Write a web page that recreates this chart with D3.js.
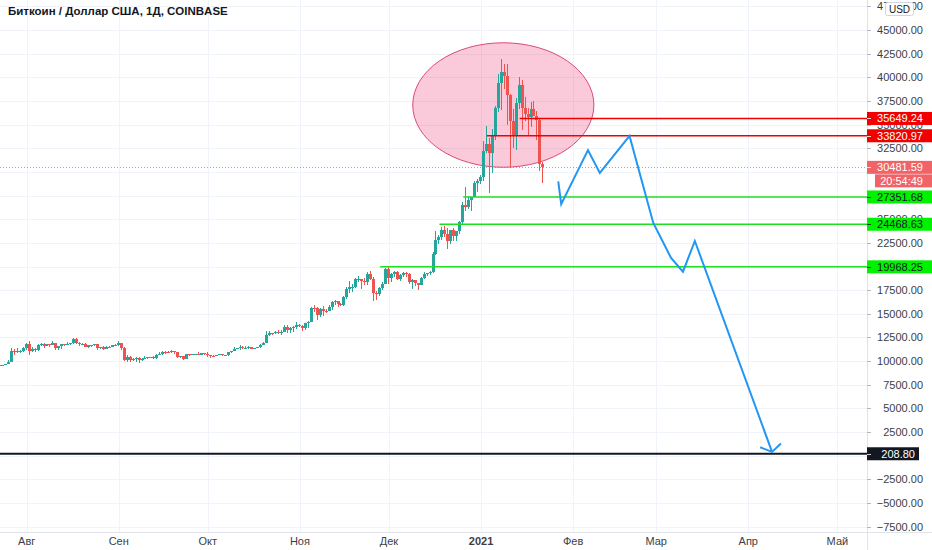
<!DOCTYPE html>
<html>
<head>
<meta charset="utf-8">
<script src="https://cdn.jsdelivr.net/npm/d3@7"></script>
<style>
html, body { margin: 0; padding: 0; background: #fff; }
svg { display: block; font-family: "Liberation Sans", Arial, sans-serif; }
</style>
</head>
<body>
<svg id="chart" width="932" height="550"></svg>
<script>
// daily candles, BTC/USD coinbase: date, open, high, low, close
const candles = [
    ["2020-07-21", 9160, 9420, 9150, 9390],
    ["2020-07-22", 9390, 9540, 9280, 9530],
    ["2020-07-23", 9530, 9640, 9470, 9610],
    ["2020-07-24", 9610, 9640, 9460, 9550],
    ["2020-07-25", 9550, 9730, 9540, 9710],
    ["2020-07-26", 9710, 10100, 9680, 9940],
    ["2020-07-27", 9940, 11400, 9920, 11050],
    ["2020-07-28", 11050, 11250, 10630, 10930],
    ["2020-07-29", 10930, 11340, 10860, 11100],
    ["2020-07-30", 11100, 11170, 10840, 11110],
    ["2020-07-31", 11110, 11450, 10980, 11350],
    ["2020-08-01", 11350, 11870, 11220, 11810],
    ["2020-08-02", 11810, 12120, 10660, 11070],
    ["2020-08-03", 11070, 11480, 10940, 11230],
    ["2020-08-04", 11230, 11420, 11000, 11190],
    ["2020-08-05", 11190, 11790, 11090, 11750],
    ["2020-08-06", 11750, 11910, 11590, 11770],
    ["2020-08-07", 11770, 11920, 11380, 11600],
    ["2020-08-08", 11600, 11810, 11550, 11760],
    ["2020-08-09", 11760, 11810, 11530, 11680],
    ["2020-08-10", 11680, 12080, 11690, 11880],
    ["2020-08-11", 11880, 11940, 11130, 11400],
    ["2020-08-12", 11400, 11600, 11150, 11570],
    ["2020-08-13", 11570, 11800, 11260, 11780],
    ["2020-08-14", 11780, 11850, 11640, 11770],
    ["2020-08-15", 11770, 11980, 11700, 11860],
    ["2020-08-16", 11860, 11930, 11690, 11910],
    ["2020-08-17", 11910, 12480, 11810, 12300],
    ["2020-08-18", 12300, 12400, 11800, 11960],
    ["2020-08-19", 11960, 12030, 11560, 11760],
    ["2020-08-20", 11760, 11890, 11680, 11860],
    ["2020-08-21", 11860, 11880, 11480, 11530],
    ["2020-08-22", 11530, 11690, 11380, 11680],
    ["2020-08-23", 11680, 11710, 11520, 11660],
    ["2020-08-24", 11660, 11830, 11600, 11760],
    ["2020-08-25", 11760, 11780, 11130, 11340],
    ["2020-08-26", 11340, 11540, 11260, 11470],
    ["2020-08-27", 11470, 11590, 11130, 11320],
    ["2020-08-28", 11320, 11550, 11290, 11540],
    ["2020-08-29", 11540, 11580, 11430, 11480],
    ["2020-08-30", 11480, 11720, 11470, 11710],
    ["2020-08-31", 11710, 11770, 11580, 11680],
    ["2020-09-01", 11680, 12090, 11610, 11930],
    ["2020-09-02", 11930, 11950, 11170, 11400],
    ["2020-09-03", 11400, 11460, 10000, 10170],
    ["2020-09-04", 10170, 10610, 9900, 10470],
    ["2020-09-05", 10470, 10570, 9880, 10170],
    ["2020-09-06", 10170, 10350, 10010, 10250],
    ["2020-09-07", 10250, 10400, 9880, 10370],
    ["2020-09-08", 10370, 10430, 9850, 10130],
    ["2020-09-09", 10130, 10350, 10000, 10230],
    ["2020-09-10", 10230, 10490, 10200, 10350],
    ["2020-09-11", 10350, 10400, 10200, 10400],
    ["2020-09-12", 10400, 10480, 10290, 10440],
    ["2020-09-13", 10440, 10580, 10210, 10330],
    ["2020-09-14", 10330, 10800, 10270, 10680],
    ["2020-09-15", 10680, 10950, 10630, 10790],
    ["2020-09-16", 10790, 11100, 10680, 10950],
    ["2020-09-17", 10950, 11040, 10750, 10940],
    ["2020-09-18", 10940, 11040, 10820, 10930],
    ["2020-09-19", 10930, 11180, 10890, 11080],
    ["2020-09-20", 11080, 11080, 10760, 10920],
    ["2020-09-21", 10920, 10990, 10370, 10420],
    ["2020-09-22", 10420, 10580, 10360, 10530],
    ["2020-09-23", 10530, 10540, 10140, 10240],
    ["2020-09-24", 10240, 10790, 10200, 10740],
    ["2020-09-25", 10740, 10760, 10570, 10690],
    ["2020-09-26", 10690, 10780, 10650, 10730],
    ["2020-09-27", 10730, 10800, 10630, 10780],
    ["2020-09-28", 10780, 10950, 10650, 10700],
    ["2020-09-29", 10700, 10870, 10650, 10840],
    ["2020-09-30", 10840, 10850, 10680, 10780],
    ["2020-10-01", 10780, 10920, 10440, 10620],
    ["2020-10-02", 10620, 10670, 10380, 10580],
    ["2020-10-03", 10580, 10600, 10500, 10550],
    ["2020-10-04", 10550, 10690, 10520, 10670],
    ["2020-10-05", 10670, 10800, 10600, 10790],
    ["2020-10-06", 10790, 10800, 10530, 10600],
    ["2020-10-07", 10600, 10690, 10550, 10670],
    ["2020-10-08", 10670, 10950, 10530, 10920],
    ["2020-10-09", 10920, 11100, 10830, 11060],
    ["2020-10-10", 11060, 11490, 11050, 11300],
    ["2020-10-11", 11300, 11440, 11250, 11370],
    ["2020-10-12", 11370, 11720, 11220, 11540],
    ["2020-10-13", 11540, 11560, 11300, 11430],
    ["2020-10-14", 11430, 11550, 11290, 11430],
    ["2020-10-15", 11430, 11630, 11280, 11510],
    ["2020-10-16", 11510, 11540, 11230, 11320],
    ["2020-10-17", 11320, 11400, 11300, 11360],
    ["2020-10-18", 11360, 11490, 11340, 11500],
    ["2020-10-19", 11500, 11820, 11420, 11750],
    ["2020-10-20", 11750, 12000, 11700, 11920],
    ["2020-10-21", 11920, 13220, 11900, 12810],
    ["2020-10-22", 12810, 13190, 12700, 12990],
    ["2020-10-23", 12990, 13020, 12730, 12930],
    ["2020-10-24", 12930, 13160, 12900, 13120],
    ["2020-10-25", 13120, 13340, 12900, 13030],
    ["2020-10-26", 13030, 13250, 12800, 13070],
    ["2020-10-27", 13070, 13790, 13060, 13650],
    ["2020-10-28", 13650, 13850, 12950, 13280],
    ["2020-10-29", 13280, 13640, 12990, 13460],
    ["2020-10-30", 13460, 13680, 13130, 13560],
    ["2020-10-31", 13560, 14100, 13430, 13800],
    ["2020-11-01", 13800, 13900, 13620, 13760],
    ["2020-11-02", 13760, 13820, 13210, 13550],
    ["2020-11-03", 13550, 14070, 13290, 14030],
    ["2020-11-04", 14030, 14250, 13530, 14150],
    ["2020-11-05", 14150, 15770, 14100, 15590],
    ["2020-11-06", 15590, 15970, 15190, 15580],
    ["2020-11-07", 15580, 15770, 14350, 14840],
    ["2020-11-08", 14840, 15650, 14710, 15480],
    ["2020-11-09", 15480, 15840, 14810, 15330],
    ["2020-11-10", 15330, 15480, 15100, 15310],
    ["2020-11-11", 15310, 15960, 15280, 15700],
    ["2020-11-12", 15700, 16340, 15450, 16290],
    ["2020-11-13", 16290, 16480, 15960, 16320],
    ["2020-11-14", 16320, 16330, 15720, 16070],
    ["2020-11-15", 16070, 16130, 15800, 15960],
    ["2020-11-16", 15960, 16880, 15880, 16730],
    ["2020-11-17", 16730, 17860, 16560, 17660],
    ["2020-11-18", 17660, 18480, 17210, 17800],
    ["2020-11-19", 17800, 18170, 17350, 17820],
    ["2020-11-20", 17820, 18820, 17760, 18680],
    ["2020-11-21", 18680, 18960, 18360, 18710],
    ["2020-11-22", 18710, 18730, 17640, 18420],
    ["2020-11-23", 18420, 18770, 18010, 18370],
    ["2020-11-24", 18370, 19420, 18090, 19160],
    ["2020-11-25", 19160, 19490, 18570, 18730],
    ["2020-11-26", 18730, 18920, 16330, 17150],
    ["2020-11-27", 17150, 17460, 16490, 17140],
    ["2020-11-28", 17140, 17880, 16900, 17720],
    ["2020-11-29", 17720, 18330, 17540, 18180],
    ["2020-11-30", 18180, 19860, 18180, 19700],
    ["2020-12-01", 19700, 19920, 18120, 18790],
    ["2020-12-02", 18790, 19340, 18340, 19230],
    ["2020-12-03", 19230, 19560, 18930, 19450],
    ["2020-12-04", 19450, 19530, 18580, 18650],
    ["2020-12-05", 18650, 19170, 18500, 19150],
    ["2020-12-06", 19150, 19420, 18860, 19360],
    ["2020-12-07", 19360, 19410, 18900, 19170],
    ["2020-12-08", 19170, 19300, 18200, 18320],
    ["2020-12-09", 18320, 18630, 17650, 18550],
    ["2020-12-10", 18550, 18560, 17910, 18250],
    ["2020-12-11", 18250, 18270, 17570, 18030],
    ["2020-12-12", 18030, 18940, 18020, 18800],
    ["2020-12-13", 18800, 19400, 18720, 19170],
    ["2020-12-14", 19170, 19340, 19000, 19270],
    ["2020-12-15", 19270, 19560, 19060, 19440],
    ["2020-12-16", 19440, 21560, 19300, 21340],
    ["2020-12-17", 21340, 23770, 21230, 22800],
    ["2020-12-18", 22800, 23280, 22350, 23130],
    ["2020-12-19", 23130, 24170, 22770, 23860],
    ["2020-12-20", 23860, 24290, 23080, 23470],
    ["2020-12-21", 23470, 24100, 21820, 22720],
    ["2020-12-22", 22720, 23830, 22350, 23820],
    ["2020-12-23", 23820, 24120, 22700, 23240],
    ["2020-12-24", 23240, 23780, 22700, 23730],
    ["2020-12-25", 23730, 24790, 23440, 24710],
    ["2020-12-26", 24710, 26870, 24510, 26490],
    ["2020-12-27", 26490, 28420, 25850, 26280],
    ["2020-12-28", 26280, 27430, 26090, 27040],
    ["2020-12-29", 27040, 27370, 25900, 27370],
    ["2020-12-30", 27370, 29000, 27330, 28880],
    ["2020-12-31", 28880, 29300, 27850, 28990],
    ["2021-01-01", 28990, 29680, 28700, 29410],
    ["2021-01-02", 29410, 33300, 29000, 32200],
    ["2021-01-03", 32200, 34810, 32000, 33000],
    ["2021-01-04", 33000, 33600, 27730, 32000],
    ["2021-01-05", 32000, 34500, 29900, 33950],
    ["2021-01-06", 33950, 36950, 33400, 36770],
    ["2021-01-07", 36770, 40370, 36300, 39410],
    ["2021-01-08", 39410, 41950, 36500, 40600],
    ["2021-01-09", 40600, 41360, 38720, 40100],
    ["2021-01-10", 40100, 41400, 35000, 38150],
    ["2021-01-11", 38150, 38200, 30420, 35400],
    ["2021-01-12", 35400, 36600, 32500, 33900],
    ["2021-01-13", 33900, 37800, 32300, 37330],
    ["2021-01-14", 37330, 40000, 36700, 39150],
    ["2021-01-15", 39150, 39700, 34400, 36800],
    ["2021-01-16", 36800, 37950, 35400, 36070],
    ["2021-01-17", 36070, 36800, 33850, 35800],
    ["2021-01-18", 35800, 37400, 34800, 36630],
    ["2021-01-19", 36630, 37450, 35900, 35900],
    ["2021-01-20", 35900, 36400, 33400, 35480],
    ["2021-01-21", 35480, 35600, 30100, 30820],
    ["2021-01-22", 30820, 31100, 28800, 30481.59]
];

// horizontal levels drawn on the chart
const resistancePrices = [35649.24, 33820.97];
const resistanceFrom = ["2021-01-14", "2021-01-03"];
const supportPrices = [27351.68, 24468.63, 19968.25];
const supportFrom = ["2020-12-26", "2020-12-18", "2020-11-28"];
const basePrice = 208.80;
const lastPrice = 30481.59;
const countdown = "20:54:49";

// highlighted zone (ellipse bounding box)
const zoneDates = ["2020-12-09", "2021-02-08"];
const zonePrices = [43650, 30490];

// hand drawn forecast path + arrow head
const forecastDates = ["2021-01-27", "2021-01-28", "2021-02-06", "2021-02-10", "2021-02-20",
                       "2021-02-28", "2021-03-06", "2021-03-10", "2021-03-14", "2021-04-09"];
const forecastPrices = [29000, 26600, 32300, 29900, 33800, 24600, 20900, 19450, 22700, 400];
const arrowDates = ["2021-04-05", "2021-04-09", "2021-04-12"];
const arrowPrices = [900, 400, 1300];

// axes
const priceTicks = d3.range(-7500, 47501, 2500);
const monthTicks = ["2020-08-01", "2020-09-01", "2020-10-01", "2020-11-01", "2020-12-01",
                    "2021-01-01", "2021-02-01", "2021-03-01", "2021-04-01", "2021-05-01"];
const monthLabels = ["Авг", "Сен", "Окт", "Ноя", "Дек", "2021", "Фев", "Мар", "Апр", "Май"];

const title = "Биткоин / Доллар США, 1Д, COINBASE";

const W = 932, H = 550;
const plotR = 867, plotB = 532;
const upColor = '#26a69a', downColor = '#ef5350';

const parseDay = d3.utcParse('%Y-%m-%d');
const x = d3.scaleUtc()
    .domain([parseDay('2020-08-01'), parseDay('2021-04-01')])
    .range([26.7, 748.3]);
const y = d3.scaleLinear()
    .domain([-7500, 45000])
    .range([526.7, 30]);

const svg = d3.select('#chart');
svg.append('rect').attr('width', W).attr('height', H).attr('fill', '#fff');

svg.append('defs').append('clipPath').attr('id', 'plotClip')
    .append('rect').attr('width', plotR).attr('height', plotB);

// grid
const grid = svg.append('g').attr('shape-rendering', 'crispEdges');
grid.selectAll('line.h')
    .data(priceTicks)
    .enter().append('line')
    .attr('class', 'h')
    .attr('x1', 0).attr('x2', plotR)
    .attr('y1', function(d) { return Math.round(y(d)) + 0.5; })
    .attr('y2', function(d) { return Math.round(y(d)) + 0.5; })
    .attr('stroke', '#f0f3fa');
grid.selectAll('line.v')
    .data(monthTicks)
    .enter().append('line')
    .attr('class', 'v')
    .attr('y1', 0).attr('y2', plotB)
    .attr('x1', function(d) { return Math.round(x(parseDay(d))) + 0.5; })
    .attr('x2', function(d) { return Math.round(x(parseDay(d))) + 0.5; })
    .attr('stroke', '#f0f3fa');

const plot = svg.append('g').attr('clip-path', 'url(#plotClip)');

// zone ellipse
const zx0 = x(parseDay(zoneDates[0])), zx1 = x(parseDay(zoneDates[1]));
const zy0 = y(zonePrices[0]), zy1 = y(zonePrices[1]);
plot.append('ellipse')
    .attr('cx', (zx0 + zx1) / 2)
    .attr('cy', (zy0 + zy1) / 2)
    .attr('rx', (zx1 - zx0) / 2)
    .attr('ry', (zy1 - zy0) / 2)
    .attr('fill', 'rgba(233, 30, 99, 0.24)')
    .attr('stroke', '#dd4a72')
    .attr('stroke-width', 1);

// current price dotted line
plot.append('line')
    .attr('x1', 0).attr('x2', plotR)
    .attr('y1', Math.round(y(lastPrice)) + 0.5)
    .attr('y2', Math.round(y(lastPrice)) + 0.5)
    .attr('stroke', '#ef5350')
    .attr('stroke-opacity', 0.7)
    .attr('stroke-dasharray', '1,2');

// candles
const cg = plot.append('g').attr('shape-rendering', 'crispEdges');
const candle = cg.selectAll('g')
    .data(candles)
    .enter().append('g');
candle.append('rect')
    .attr('x', function(d) { return Math.round(x(parseDay(d[0]))) - 1; })
    .attr('width', 1)
    .attr('y', function(d) { return y(d[2]); })
    .attr('height', function(d) { return Math.max(1, y(d[3]) - y(d[2])); })
    .attr('fill', function(d) { return d[4] >= d[1] ? upColor : downColor; });
candle.append('rect')
    .attr('x', function(d) { return Math.round(x(parseDay(d[0]))) - 2; })
    .attr('width', 3)
    .attr('y', function(d) { return y(Math.max(d[1], d[4])); })
    .attr('height', function(d) { return Math.max(1, Math.abs(y(d[1]) - y(d[4]))); })
    .attr('fill', function(d) { return d[4] >= d[1] ? upColor : downColor; });

// levels
function levelLine(price, from, color, width) {
    plot.append('line')
        .attr('x1', x(parseDay(from))).attr('x2', plotR)
        .attr('y1', y(price)).attr('y2', y(price))
        .attr('stroke', color)
        .attr('stroke-width', width);
}
for (var i = 0; i < resistancePrices.length; i++) {
    levelLine(resistancePrices[i], resistanceFrom[i], '#f20000', 1.5);
}
for (var j = 0; j < supportPrices.length; j++) {
    levelLine(supportPrices[j], supportFrom[j], '#1fe01f', 1.5);
}
plot.append('line')
    .attr('x1', 0).attr('x2', plotR)
    .attr('y1', y(basePrice)).attr('y2', y(basePrice))
    .attr('stroke', '#131722')
    .attr('stroke-width', 2);

// forecast path
const pathLine = d3.line()
    .x(function(d) { return x(parseDay(d[0])); })
    .y(function(d) { return y(d[1]); });
plot.append('path')
    .datum(d3.zip(forecastDates, forecastPrices))
    .attr('d', pathLine)
    .attr('fill', 'none')
    .attr('stroke', '#2196f3')
    .attr('stroke-width', 2)
    .attr('stroke-linejoin', 'miter');
plot.append('path')
    .datum(d3.zip(arrowDates, arrowPrices))
    .attr('d', pathLine)
    .attr('fill', 'none')
    .attr('stroke', '#2196f3')
    .attr('stroke-width', 2);

// axes frame
const frame = svg.append('g').attr('shape-rendering', 'crispEdges');
frame.append('line')
    .attr('x1', plotR + 0.5).attr('x2', plotR + 0.5)
    .attr('y1', 0).attr('y2', H)
    .attr('stroke', '#e0e3eb');
frame.append('line')
    .attr('x1', 0).attr('x2', W)
    .attr('y1', plotB + 0.5).attr('y2', plotB + 0.5)
    .attr('stroke', '#e0e3eb');

// title
svg.append('text')
    .attr('x', 8).attr('y', 15)
    .attr('font-size', 11.5)
    .attr('font-weight', 'bold')
    .attr('fill', '#131722')
    .text(title);

// price axis
const tagCentres = resistancePrices.concat(supportPrices, [basePrice, lastPrice]).map(y);
const pa = svg.append('g');
pa.selectAll('line')
    .data(priceTicks)
    .enter().append('line')
    .attr('x1', plotR).attr('x2', plotR + 4)
    .attr('y1', function(d) { return Math.round(y(d)) + 0.5; })
    .attr('y2', function(d) { return Math.round(y(d)) + 0.5; })
    .attr('stroke', '#b2b5be')
    .attr('shape-rendering', 'crispEdges');
pa.selectAll('text')
    .data(priceTicks.filter(function(d) {
        return !tagCentres.some(function(c) { return Math.abs(c - y(d)) < 4.8; });
    }))
    .enter().append('text')
    .attr('x', 923)
    .attr('y', function(d) { return y(d) + 4; })
    .attr('text-anchor', 'end')
    .attr('font-size', 11)
    .attr('fill', '#3b3e47')
    .text(function(d) { return d3.format('.2f')(d); });

// USD box
svg.append('rect')
    .attr('x', 885.5).attr('y', 2.5).attr('width', 28).attr('height', 13)
    .attr('rx', 2)
    .attr('fill', '#fff').attr('stroke', '#d1d4dc');
svg.append('text')
    .attr('x', 899.5).attr('y', 12.5)
    .attr('text-anchor', 'middle')
    .attr('font-size', 10)
    .attr('fill', '#131722')
    .text('USD');

// price tags
function tag(price, label, bg, fg, x0, x1, textX, dy) {
    const cy = y(price) + (dy || 0);
    svg.append('rect')
        .attr('x', x0).attr('y', cy - 6.5)
        .attr('width', x1 - x0).attr('height', 13)
        .attr('fill', bg);
    svg.append('line')
        .attr('x1', plotR).attr('x2', plotR + 4)
        .attr('y1', Math.round(cy) + 0.5).attr('y2', Math.round(cy) + 0.5)
        .attr('stroke', fg).attr('stroke-opacity', 0.8)
        .attr('shape-rendering', 'crispEdges');
    svg.append('text')
        .attr('x', textX).attr('y', cy + 4)
        .attr('text-anchor', 'end')
        .attr('font-size', 11)
        .attr('fill', fg)
        .text(label);
}
for (var k = 0; k < resistancePrices.length; k++) {
    tag(resistancePrices[k], d3.format('.2f')(resistancePrices[k]), '#f20000', '#fff', plotR, W, 923);
}
for (var m = 0; m < supportPrices.length; m++) {
    tag(supportPrices[m], d3.format('.2f')(supportPrices[m]), '#00f200', '#131722', plotR, W, 923);
}
tag(lastPrice, d3.format('.2f')(lastPrice), '#f06468', '#fff', plotR, W, 923);
svg.append('rect')
    .attr('x', 875).attr('y', y(lastPrice) + 7)
    .attr('width', W - 875).attr('height', 13)
    .attr('fill', '#f06468');
svg.append('text')
    .attr('x', 923).attr('y', y(lastPrice) + 17.5)
    .attr('text-anchor', 'end')
    .attr('font-size', 11)
    .attr('fill', '#fff')
    .text(countdown);
tag(basePrice, d3.format('.2f')(basePrice), '#131722', '#fff', plotR, 919, 915);

// time axis
const ta = svg.append('g');
ta.selectAll('text')
    .data(monthTicks)
    .enter().append('text')
    .attr('x', function(d) { return x(parseDay(d)); })
    .attr('y', 545)
    .attr('text-anchor', 'middle')
    .attr('font-size', 11)
    .attr('font-weight', function(d, i) { return monthLabels[i] === '2021' ? 'bold' : 'normal'; })
    .attr('fill', '#3b3e47')
    .text(function(d, i) { return monthLabels[i]; });
</script>
</body>
</html>
